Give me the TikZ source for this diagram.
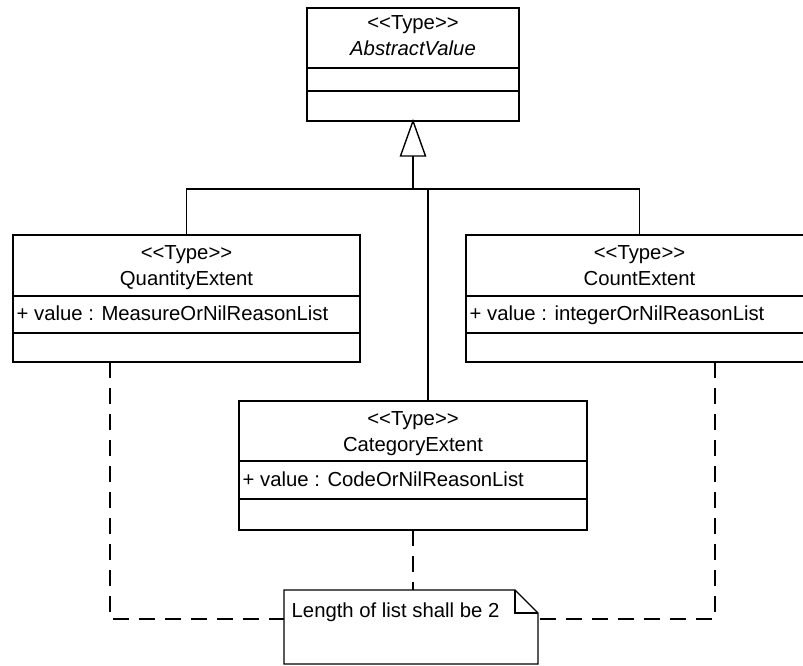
\documentclass[tikz,border=0pt]{standalone}
\usepackage{fontspec}
\setmainfont{Liberation Sans}[Ligatures=TeXOff]
\usetikzlibrary{calc}
\begin{document}
\begin{tikzpicture}[x=1pt,y=-1pt,line width=1.4pt,
  umlbox/.style={draw, anchor=north west, inner sep=0pt, outer sep=0pt},
  lbl/.style={anchor=base, inner sep=0pt, font=\fontsize{20.3}{23}\selectfont},
  attr/.style={anchor=base west, inner sep=0pt, font=\fontsize{20.3}{23}\selectfont},
  dep/.style={dash pattern=on 16pt off 10pt},
  gen/.style={fill=white, line join=miter}]
\useasboundingbox (0,0) rectangle (803,666);

% AbstractValue
\node[umlbox, minimum width=212pt, minimum height=113pt] (abs) at (307,8) {};
\draw ($(abs.north west)+(0,60)$) -- ($(abs.north east)+(0,60)$);
\draw ($(abs.north west)+(0,83)$) -- ($(abs.north east)+(0,83)$);
\node[lbl] (absS) at ($(abs.north)+(0,22)$) {<<Type>>};
\node[lbl] (absN) at ($(abs.north)+(0,48)$) {\itshape AbstractValue};

% QuantityExtent
\node[umlbox, minimum width=347pt, minimum height=127pt] (qty) at (13,235) {};
\draw ($(qty.north west)+(0,61)$) -- ($(qty.north east)+(0,61)$);
\draw ($(qty.north west)+(0,98)$) -- ($(qty.north east)+(0,98)$);
\node[lbl] (qtyS) at ($(qty.north)+(0,24)$) {<<Type>>};
\node[lbl] (qtyN) at ($(qty.north)+(0,50)$) {QuantityExtent};
\node[attr] (qtyA) at ($(qty.north west)+(3,85)$) {+ value : MeasureOrNilReasonList};

% CountExtent
\node[umlbox, minimum width=347pt, minimum height=127pt] (cnt) at (466,235) {};
\draw ($(cnt.north west)+(0,61)$) -- ($(cnt.north east)+(0,61)$);
\draw ($(cnt.north west)+(0,98)$) -- ($(cnt.north east)+(0,98)$);
\node[lbl] (cntS) at ($(cnt.north)+(0,24)$) {<<Type>>};
\node[lbl] (cntN) at ($(cnt.north)+(0,50)$) {CountExtent};
\node[attr] (cntA) at ($(cnt.north west)+(3,85)$) {+ value : integerOrNilReasonList};

% CategoryExtent
\node[umlbox, minimum width=348pt, minimum height=129pt] (cat) at (239,401) {};
\draw ($(cat.north west)+(0,60)$) -- ($(cat.north east)+(0,60)$);
\draw ($(cat.north west)+(0,98)$) -- ($(cat.north east)+(0,98)$);
\node[lbl] (catS) at ($(cat.north)+(0,24)$) {<<Type>>};
\node[lbl] (catN) at ($(cat.north)+(0,50)$) {CategoryExtent};
\node[attr] (catA) at ($(cat.north west)+(3,85)$) {+ value : CodeOrNilReasonList};

% Note
\node[anchor=north west, inner sep=0pt, outer sep=0pt, minimum width=254pt, minimum height=74pt] (note) at (284,590) {};
\draw[line join=miter] (note.north west) -- ($(note.north east)+(-23,0)$) -- ($(note.north east)+(0,23)$) -- (note.south east) -- (note.south west) -- cycle;
\draw ($(note.north east)+(-23,0)$) -- ($(note.north east)+(-23,23)$) -- ($(note.north east)+(0,23)$);
\node[attr] (noteT) at ($(note.north west)+(7,27)$) {Length of list shall be 2};

% Generalization
\coordinate (gbase) at ($(abs.south)+(0,35)$);
\coordinate (bus) at ($(abs.south)+(0,68)$);
\draw[gen] (abs.south) -- ($(gbase)+(-12.5,0)$) -- ($(gbase)+(12.5,0)$) -- cycle;
\draw (gbase) -- (bus);
\draw (qty.north) |- (cnt.north |- bus) -- (cnt.north);
\draw ($(cat.north)+(15,0)$) -- ($(cat.north |- bus)+(15,0)$);

% Note attachments
\coordinate (nl) at ($(note.north west)+(0,29)$);
\coordinate (nr) at ($(note.north east)+(0,29)$);
\draw[dep] ($(qty.south west)+(97,0)$) |- (nl);
\draw[dep] ($(cnt.south west)+(249,0)$) |- (nr);
\draw[dep] (cat.south) -- (note.north -| cat.south);
\end{tikzpicture}
\end{document}
